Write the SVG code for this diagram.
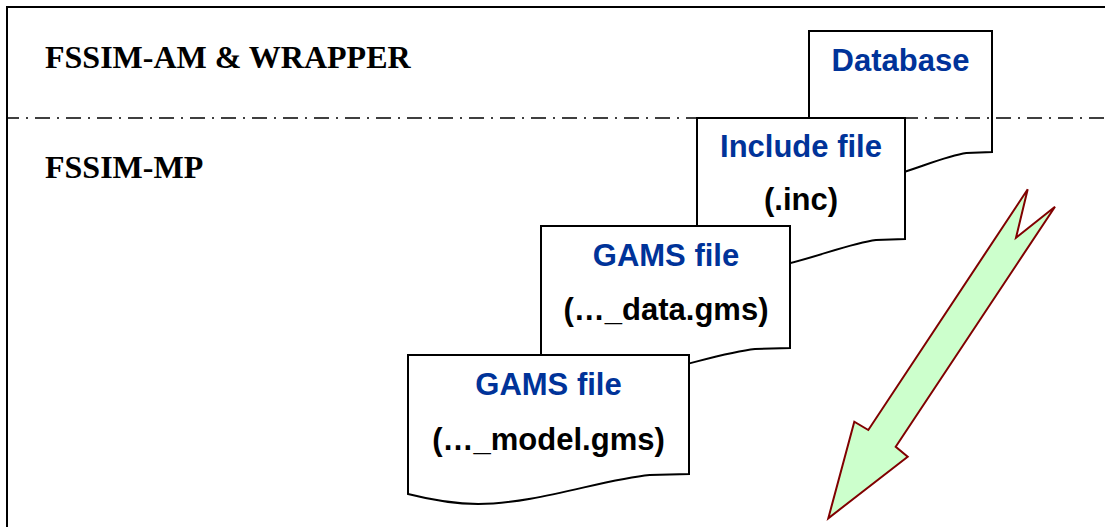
<svg xmlns="http://www.w3.org/2000/svg" width="1105" height="527" viewBox="0 0 1105 527">
<style>
.doc{fill:#ffffff;stroke:#000000;stroke-width:2;stroke-linejoin:miter}
.t{font-family:"Liberation Sans",Arial,sans-serif;font-weight:bold;font-size:31px;text-anchor:middle}
.blue{fill:#003399}
.blk{fill:#000000}
.lbl{font-family:"Liberation Serif","Times New Roman",serif;font-weight:bold;font-size:32px;fill:#000000}
</style>
<rect x="0" y="0" width="1105" height="527" fill="#ffffff"/>
<g id="frame">
<path d="M7,527 V7 H1105" fill="none" stroke="#000000" stroke-width="2"/>
</g>
<g id="label-am">
<text class="lbl" x="45" y="68">FSSIM-AM &amp; WRAPPER</text>
</g>
<g id="label-mp">
<text class="lbl" x="45" y="178">FSSIM-MP</text>
</g>
<g id="database">
<path class="doc" d="M809,31 H992 V152 L966.4,153 C937,157 891,182 854.75,182 C836.5,182 821.8,177 809,172 Z"/>
<text class="t blue" x="900.5" y="71">Database</text>
</g>
<g id="divider">
<line x1="7" y1="118" x2="1105" y2="118" stroke="#000000" stroke-width="1.5" stroke-dasharray="15 7 2 7" stroke-dashoffset="3"/>
</g>
<g id="include">
<path class="doc" d="M697,118 H905 V239 L876,240 C842.6,244 790.6,269 749,269 C728.2,269 711.6,264 697,259 Z"/>
<text class="t blue" x="801" y="157">Include file</text>
<text class="t blk" x="801" y="210">(.inc)</text>
</g>
<g id="gams-data">
<path class="doc" d="M541,226 H790 V348 L755,349 C715.3,353 653,378 603.25,378 C578.35,378 558.4,373 541,368 Z"/>
<text class="t blue" x="666" y="266">GAMS file</text>
<text class="t blk" x="666" y="320">(…_data.gms)</text>
</g>
<g id="gams-model">
<path class="doc" d="M408,355 H689 V474 L649.7,475 C604.7,479 534.5,504 478.25,504 C450.15,504 427.7,499 408,494 Z"/>
<text class="t blue" x="548.5" y="395">GAMS file</text>
<text class="t blk" x="548.5" y="450">(…_model.gms)</text>
</g>
<g id="connectors">
<polygon points="1027.7,189.3 1016,237.7 1055,206.7 895.7,446.7 907.7,456.7 828.3,518.3 854.3,421.7 868.3,430" fill="#ccffcc" stroke="#800000" stroke-width="2" stroke-linejoin="miter"/>
</g>
</svg>
